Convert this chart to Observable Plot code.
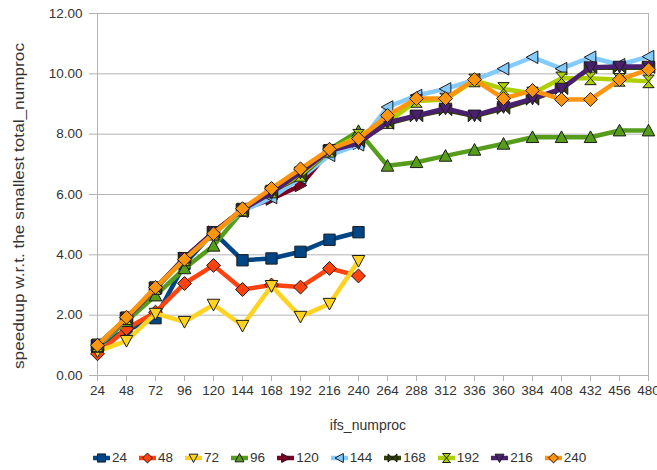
<!DOCTYPE html>
<html>
<head>
<meta charset="utf-8">
<script src="https://cdn.jsdelivr.net/npm/d3@7"></script>
<script src="https://cdn.jsdelivr.net/npm/@observablehq/plot@0.6"></script>
<style>
  html, body { margin: 0; padding: 0; background: #fff; }
  body { width: 657px; height: 470px; overflow: hidden; font-family: "Liberation Sans", Arial, sans-serif; }
  #legend { display: flex; align-items: center; height: 25px; padding-left: 93px; font-size: 13.5px; color: #333; }
  #legend .item { display: flex; align-items: center; margin-right: 12px; }
  #legend svg { margin-right: 2px; }
</style>
</head>
<body>
<div id="chart"></div>
<div id="legend"></div>
<script>
const xCategories = [24, 48, 72, 96, 120, 144, 168, 192, 216, 240, 264, 288, 312, 336, 360, 384, 408, 432, 456, 480];
const yTicks = [0, 2, 4, 6, 8, 10, 12];
const seriesNames = ["24", "48", "72", "96", "120", "144", "168", "192", "216", "240"];
const seriesColors = ["#004586", "#ff420e", "#ffd320", "#579d1c", "#7e0021", "#83caff", "#314004", "#aecf00", "#4b1f6f", "#ff950e"];

const s24  = [1.0, 1.5, 1.9, 3.7, 4.75, 3.82, 3.88, 4.1, 4.5, 4.75];
const s48  = [0.72, 1.55, 2.1, 3.05, 3.65, 2.85, 3.0, 2.93, 3.55, 3.3];
const s72  = [0.8, 1.15, 2.05, 1.78, 2.35, 1.65, 2.97, 1.95, 2.38, 3.8];
const s96  = [0.95, 1.8, 2.65, 3.55, 4.3, 5.45, 6.1, 6.7, 7.5, 8.1, 6.95, 7.07, 7.28, 7.48, 7.68, 7.9, 7.9, 7.9, 8.12, 8.12];
const s120 = [0.98, 1.88, 2.88, 3.88, 4.75, 5.5, 5.85, 6.3, 7.45, 7.7];
const s144 = [0.97, 1.88, 2.9, 3.85, 4.7, 5.45, 5.9, 6.55, 7.3, 7.65, 8.9, 9.28, 9.5, 9.8, 10.17, 10.55, 10.17, 10.55, 10.3, 10.57];
const s168 = [1.0, 1.9, 2.9, 3.9, 4.75, 5.5, 6.1, 6.6, 7.45, 7.75, 8.35, 8.6, 8.8, 8.6, 8.85, 9.15, 9.5, 10.2, 10.2, 10.2];
const s192 = [1.0, 1.9, 2.9, 3.85, 4.7, 5.5, 6.1, 6.65, 7.45, 7.95, 8.4, 9.1, 9.15, 9.78, 9.5, 9.35, 9.85, 9.85, 9.8, 9.75];
const s216 = [1.0, 1.9, 2.9, 3.9, 4.75, 5.5, 6.05, 6.73, 7.45, 7.7, 8.39, 8.62, 8.85, 8.62, 8.9, 9.18, 9.51, 10.22, 10.24, 10.24];
const s240 = [1.0, 1.93, 2.92, 3.85, 4.7, 5.53, 6.2, 6.85, 7.5, 7.85, 8.62, 9.18, 9.18, 9.81, 9.18, 9.45, 9.15, 9.15, 9.81, 10.14];

const seriesValues = [s24, s48, s72, s96, s120, s144, s168, s192, s216, s240];

// custom marker shapes (LibreOffice style)
function poly(pts) {
  return {
    draw(ctx, size) {
      const r = Math.sqrt(size / Math.PI);
      pts.forEach(([a, b], i) => i ? ctx.lineTo(a * r, b * r) : ctx.moveTo(a * r, b * r));
      ctx.closePath();
    }
  };
}
const symSquare = poly([[-0.9, -0.9], [0.9, -0.9], [0.9, 0.9], [-0.9, 0.9]]);
const symDiamond = poly([[0, -1.1], [1.1, 0], [0, 1.1], [-1.1, 0]]);
const symDown = poly([[-1, -0.85], [1, -0.85], [0, 1]]);
const symUp = poly([[0, -1], [1, 0.85], [-1, 0.85]]);
const symRight = poly([[1, 0], [-0.85, -1], [-0.85, 1]]);
const symLeft = poly([[-1, 0], [0.85, -1], [0.85, 1]]);
const symBowtie = poly([[-1, -0.9], [1, 0.9], [1, -0.9], [-1, 0.9]]);
const symHourglass = poly([[-0.9, -1], [0.9, -1], [-0.9, 1], [0.9, 1]]);
const seriesSymbols = [symSquare, symDiamond, symDown, symUp, symRight, symLeft, symBowtie, symHourglass, symDown, symDiamond];

const marks = [
  Plot.ruleY(yTicks, {stroke: "#b3b3b3", strokeWidth: 1, insetLeft: -8}),
  Plot.ruleX([24, 480], {stroke: "#b3b3b3", strokeWidth: 1}),
  Plot.axisX({ticks: xCategories, tickSize: 6, tickPadding: 4, stroke: "#b3b3b3", tickFormat: d => String(d), fontSize: 13.5, fill: "#333"}),
  Plot.axisY({ticks: yTicks, tickSize: 0, tickPadding: 15, tickFormat: d3.format(".2f"), fontSize: 13.5, fill: "#333"})
];

seriesNames.forEach((name, i) => {
  const data = seriesValues[i].map((v, j) => ({x: xCategories[j], y: v}));
  marks.push(Plot.line(data, {x: "x", y: "y", stroke: seriesColors[i], strokeWidth: 4.5, strokeLinejoin: "round"}));
  marks.push(Plot.dot(data, {x: "x", y: "y", r: 6.3, symbol: seriesSymbols[i], fill: seriesColors[i], stroke: "#1c1c1c", strokeWidth: 1}));
});

const chart = Plot.plot({
  width: 657,
  height: 445,
  marginLeft: 97,
  marginRight: 9,
  marginTop: 13,
  marginBottom: 70,
  style: {fontFamily: "Liberation Sans, Arial, sans-serif", fontSize: "13.5px", color: "#333", background: "white", overflow: "visible"},
  x: {domain: [24, 480], label: null},
  y: {domain: [0, 12], label: null},
  marks
});
document.getElementById("chart").appendChild(chart);

const svg = d3.select(chart);
svg.append("text")
  .attr("transform", "translate(24,206) rotate(-90)")
  .attr("text-anchor", "middle")
  .attr("textLength", 326)
  .attr("lengthAdjust", "spacingAndGlyphs")
  .attr("fill", "#333")
  .style("font-size", "14px")
  .text("speeduup w.r.t. the smallest total_numproc");
svg.append("text")
  .attr("x", 368)
  .attr("y", 430)
  .attr("text-anchor", "middle")
  .attr("fill", "#333")
  .style("font-size", "14px")
  .text("ifs_numproc");

// legend
const legend = d3.select("#legend");
seriesNames.forEach((name, i) => {
  const item = legend.append("div").attr("class", "item");
  const s = item.append("svg").attr("width", 17).attr("height", 14);
  s.append("line").attr("x1", 0).attr("x2", 17).attr("y1", 7).attr("y2", 7)
    .attr("stroke", seriesColors[i]).attr("stroke-width", 4.5);
  const p = d3.path();
  seriesSymbols[i].draw(p, Math.PI * 4.5 * 4.5);
  s.append("path").attr("d", p.toString()).attr("transform", "translate(8.5,7)")
    .attr("fill", seriesColors[i]).attr("stroke", "#1c1c1c").attr("stroke-width", 1);
  item.append("span").text(name);
});
</script>
</body>
</html>
